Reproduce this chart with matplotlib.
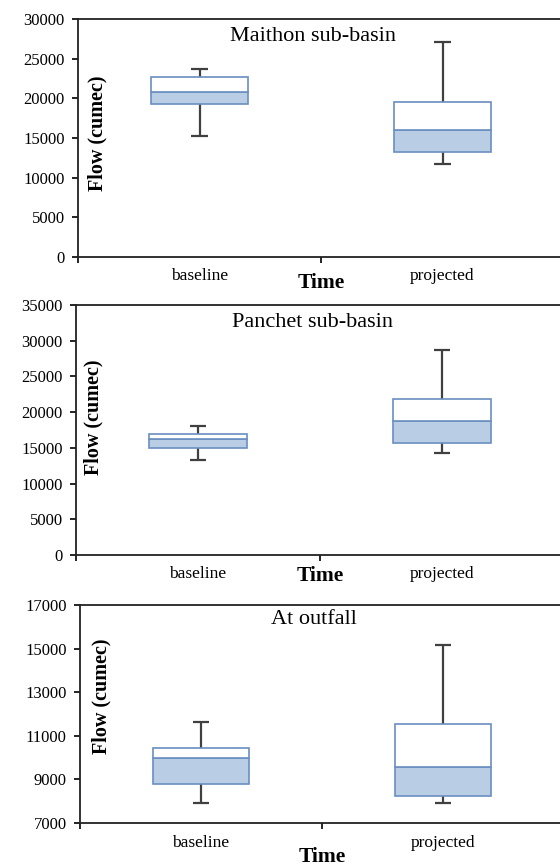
import numpy as np
import matplotlib
matplotlib.use("Agg")
import matplotlib.pyplot as plt
import matplotlib.transforms as mtransforms

plt.rcParams['font.family'] = ['Liberation Serif', 'DejaVu Serif']

# category names
categories = ["baseline", "projected"]

# box statistics (cumec)
maithon_min = [15300, 11700]
maithon_q1 = [19330, 13200]
maithon_med = [20770, 16010]
maithon_q3 = [22650, 19540]
maithon_max = [23700, 27070]

panchet_min = [13300, 14300]
panchet_q1 = [15040, 15650]
panchet_med = [16260, 18780]
panchet_q3 = [17000, 21900]
panchet_max = [18040, 28700]

outfall_min = [7900, 7900]
outfall_q1 = [8790, 8260]
outfall_med = [9990, 9590]
outfall_q3 = [10420, 11560]
outfall_max = [11640, 15150]

titles = ["Maithon sub-basin", "Panchet sub-basin", "At outfall"]
y_limits = [(0, 30000), (0, 35000), (7000, 17000)]
y_steps = [5000, 5000, 2000]

EDGE = "#6A8FC0"
FILL = "#B9CDE5"
WHISK = "#404040"

W, H = 560, 867
fig = plt.figure(figsize=(W / 100, H / 100), dpi=100)


def px_axes(left, top, bottom, right=564):
    return fig.add_axes([left / W, 1 - bottom / H, (right - left) / W, (bottom - top) / H])


def draw_panel(ax, mins, q1, med, q3, maxs, title, ylim, step,
               title_y, flow_x, flow_y, time_y, label_y):
    x = np.arange(len(categories))
    width = 0.40
    # whiskers first so the boxes sit on top
    ax.vlines(x, q3, maxs, color=WHISK, lw=1.6, zorder=1)
    ax.vlines(x, mins, q1, color=WHISK, lw=1.6, zorder=1)
    ax.hlines(maxs, x - 0.033, x + 0.033, color=WHISK, lw=1.6, zorder=1)
    ax.hlines(mins, x - 0.033, x + 0.033, color=WHISK, lw=1.6, zorder=1)
    lower = np.array(med) - np.array(q1)
    upper = np.array(q3) - np.array(med)
    ax.bar(x, lower, width, bottom=q1, color=FILL, edgecolor=EDGE, lw=1.2, zorder=2)
    ax.bar(x, upper, width, bottom=med, color="white", edgecolor=EDGE, lw=1.2, zorder=2)

    ax.set_xlim(-0.5, 1.5)
    ax.set_ylim(*ylim)
    ax.set_yticks(np.arange(ylim[0], ylim[1] + 1, step))
    ax.tick_params(axis='y', direction='out', length=4.5, width=1.2, labelsize=12, pad=5)
    ax.set_xticks([-0.5, 0.5])
    ax.set_xticklabels([])
    ax.tick_params(axis='x', direction='out', length=4, width=1.2)
    for s in ["left", "bottom", "top"]:
        ax.spines[s].set_linewidth(1.3)
        ax.spines[s].set_color("#222222")
    ax.spines["right"].set_visible(False)

    trans = mtransforms.blended_transform_factory(ax.transData, ax.transAxes)
    for xi, name in zip(x, categories):
        ax.text(xi, label_y, name, transform=trans, ha="center", va="center", fontsize=12.5)
    ax.text(0.5, time_y, "Time", transform=trans, ha="center", va="center",
            fontsize=15.5, fontweight="bold")
    ax.text(flow_x, flow_y, "Flow (cumec)", transform=ax.transAxes, rotation=90,
            ha="center", va="center", fontsize=14.5, fontweight="bold")
    ax.text(0.484, title_y, title, transform=ax.transAxes, ha="center", va="center",
            fontsize=16)


# panel frames in pixel units of the target image
ax1 = px_axes(78, 19, 257)
draw_panel(ax1, maithon_min, maithon_q1, maithon_med, maithon_q3, maithon_max,
           titles[0], y_limits[0], y_steps[0],
           title_y=0.925, flow_x=0.04, flow_y=0.52, time_y=-0.11, label_y=-0.08)

ax2 = px_axes(76, 305, 555)
draw_panel(ax2, panchet_min, panchet_q1, panchet_med, panchet_q3, panchet_max,
           titles[1], y_limits[1], y_steps[1],
           title_y=0.93, flow_x=0.035, flow_y=0.55, time_y=-0.085, label_y=-0.075)

ax3 = px_axes(80, 605, 823)
draw_panel(ax3, outfall_min, outfall_q1, outfall_med, outfall_q3, outfall_max,
           titles[2], y_limits[2], y_steps[2],
           title_y=0.935, flow_x=0.045, flow_y=0.58, time_y=-0.155, label_y=-0.09)

fig.savefig("out.png", dpi=100)
